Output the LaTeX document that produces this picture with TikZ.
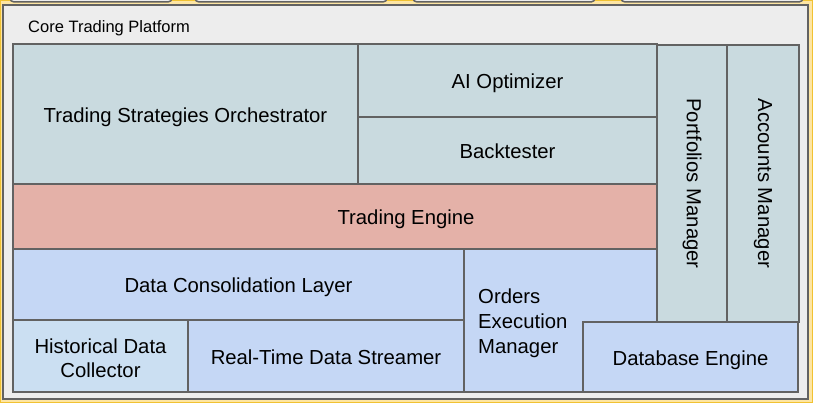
\documentclass[tikz,border=0pt]{standalone}
\usepackage{fontspec}
\setmainfont{Liberation Sans}
\definecolor{bgyellow}{HTML}{FDE5A3}
\definecolor{bgedge}{HTML}{F1C232}
\definecolor{panelgray}{HTML}{EDEDED}
\definecolor{edgegray}{HTML}{626262}
\definecolor{tealgray}{HTML}{C9DADF}
\definecolor{engred}{HTML}{E4B1A8}
\definecolor{datablue}{HTML}{C5D7F5}
\definecolor{histblue}{HTML}{CBDFF2}
\begin{document}
\begin{tikzpicture}[x=1pt,y=-1pt,
		tile/.style={draw=edgegray,line width=1.5pt,inner sep=0pt,align=center,font=\fontsize{20.3}{24.5}\selectfont},
		flat/.style={tile,text height=16.6pt,text depth=0pt}]
		\useasboundingbox (0,0) rectangle (813,403);
		\clip (0,0) rectangle (813,403);
		\draw[fill=bgyellow,draw=bgedge,line width=2pt] (0,0) rectangle (813,403);
		% tabs cut off by the top edge
		\foreach \a/\b in {10/172,195/387,413/595,621/803}
			\draw[fill=panelgray,draw=edgegray,line width=1.5pt,rounded corners=4pt] (\a,-20) rectangle (\b,2);
		\draw[fill=panelgray,draw=edgegray,line width=1.5pt] (3,5) rectangle (808,399);
		\node[anchor=west,inner sep=0pt,font=\fontsize{16.5}{20}\selectfont] (title) at (28,28.5) {Core Trading Platform};
		% strategy layer
		\node[flat,fill=tealgray,minimum width=345pt,minimum height=140pt] (tso) at (185.5,114) {Trading Strategies Orchestrator};
		\node[flat,fill=tealgray,minimum width=299pt,minimum height=73pt] (aio) at (507.5,80.5) {AI Optimizer};
		\node[flat,fill=tealgray,minimum width=299pt,minimum height=67pt] (bkt) at (507.5,150.5) {Backtester};
		\node[flat,fill=engred,minimum width=786pt,minimum height=65pt] (eng) at (406,216.5) {Trading Engine};
		% data layer
		\node[flat,fill=datablue,minimum width=451pt,minimum height=71pt] (dcl) at (238.5,284.5) {Data Consolidation Layer};
		\node[tile,fill=histblue,minimum width=175pt,minimum height=72pt] (hdc) at (100.5,356) {};
		\node[tile,draw=none] (hdctext) at (100.5,358) {Historical Data\\Collector};
		\node[flat,fill=datablue,minimum width=276pt,minimum height=72pt] (rts) at (326,356) {Real-Time Data Streamer};
		\node[tile,fill=datablue,minimum width=193pt,minimum height=143pt] (oem) at (560.5,320.5) {};
		\node[anchor=west,inner sep=0pt,align=left,font=\fontsize{20.3}{25}\selectfont] (oemtext) at (478,323) {Orders\\Execution\\Manager};
		% managers
		\node[tile,fill=tealgray,rotate=-90,minimum width=277pt,minimum height=70pt] (pfm) at (692,183.5) {Portfolios Manager};
		\node[tile,fill=tealgray,rotate=-90,minimum width=277pt,minimum height=72pt] (acm) at (763,183.5) {Accounts Manager};
		\node[flat,fill=datablue,minimum width=215pt,minimum height=70pt] (dbe) at (690.5,357) {Database Engine};
	\end{tikzpicture}
\end{document}
